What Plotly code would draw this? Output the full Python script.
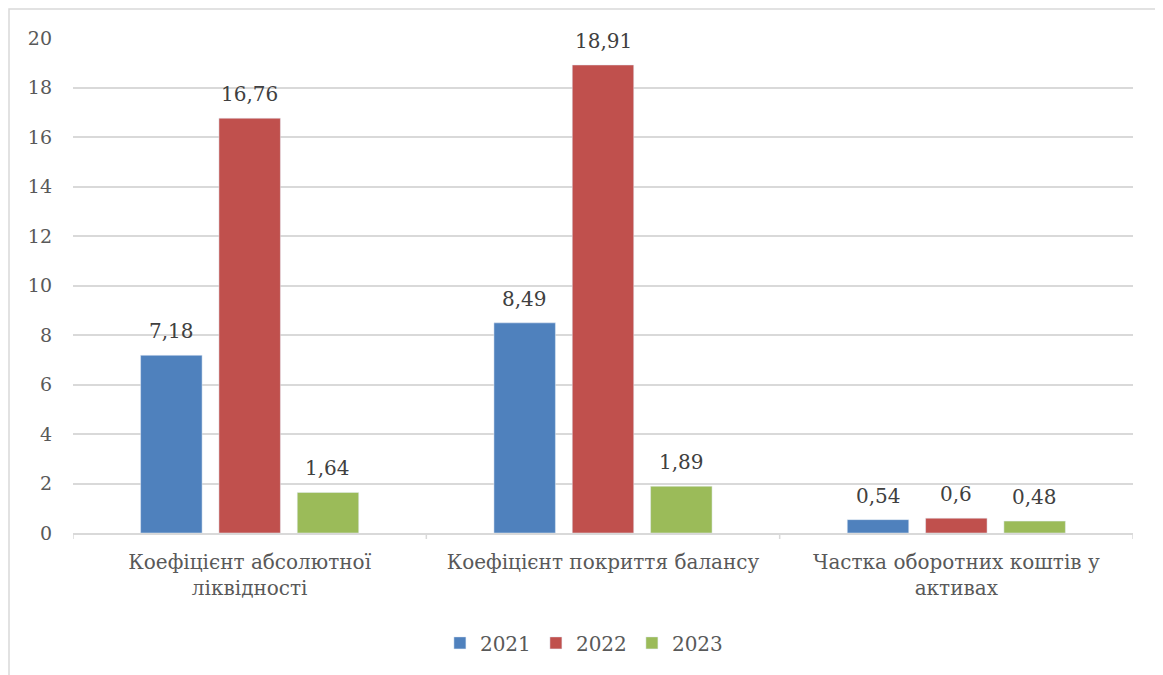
import plotly.graph_objects as go

categories = ["Коефіцієнт абсолютної<br>ліквідності", "Коефіцієнт покриття балансу", "Частка оборотних коштів у<br>активах"]
years = ["2021", "2022", "2023"]
values_2021 = [7.18, 8.49, 0.54]
values_2022 = [16.76, 18.91, 0.6]
values_2023 = [1.64, 1.89, 0.48]
colors = ["#4f81bd", "#c0504d", "#9bbb59"]
y_ticks = [0, 2, 4, 6, 8, 10, 12, 14, 16, 18, 20]

FONT = "DejaVu Serif"
TXT = "#595959"
BARGAP = 0.335
GROUPGAP = 0.215

def fmt(v):
    return ("%g" % v).replace(".", ",")

fig = go.Figure()
series = [values_2021, values_2022, values_2023]
slot = (1 - BARGAP) / len(series)
for k, (name, vals, col) in enumerate(zip(years, series, colors)):
    fig.add_trace(go.Bar(
        x=list(range(len(categories))), y=vals, name=name, marker_color=col,
    ))
    off = (k - (len(series) - 1) / 2) * slot
    for i, v in enumerate(vals):
        fig.add_annotation(x=i + off, y=v, xref="x", yref="y", text=fmt(v), showarrow=False,
                           yanchor="bottom", yshift=10,
                           font=dict(family=FONT, size=20, color="#404040"))

W, H = 1155, 667
fig.update_layout(
    width=W, height=H,
    margin=dict(l=65, r=30, t=30, b=142),
    paper_bgcolor="white", plot_bgcolor="white",
    barmode="group", bargap=BARGAP, bargroupgap=GROUPGAP,
    font=dict(family=FONT, size=18, color=TXT),
    legend=dict(orientation="h", x=0.482, xanchor="center", y=-0.222, yanchor="middle",
                font=dict(family=FONT, size=20, color=TXT), traceorder="normal",
                itemwidth=30, entrywidth=51, entrywidthmode="pixels"),
    showlegend=True,
)
fig.update_yaxes(range=[0, 20], tickvals=y_ticks, showgrid=True, gridcolor="#d9d9d9", gridwidth=1.5,
                 zeroline=False, showline=False, ticks="", ticklabelstandoff=20,
                 tickfont=dict(family=FONT, size=19, color=TXT))
fig.update_xaxes(tickvals=list(range(len(categories))), ticktext=categories,
                 range=[-0.5, len(categories) - 0.5],
                 showline=True, linecolor="#d9d9d9", linewidth=1.5, ticks="", ticklabelstandoff=10,
                 showgrid=False, zeroline=False,
                 tickfont=dict(family=FONT, size=20, color=TXT))
# category boundary tick marks
for b in [i - 0.5 for i in range(len(categories) + 1)]:
    fig.add_shape(type="line", xref="x", yref="paper", x0=b, x1=b, y0=0, y1=-6 / 495,
                  line=dict(color="#d9d9d9", width=1.5))

fig.add_shape(type="rect", xref="paper", yref="paper",
              x0=(1 - 65) / 1060, x1=(1153 - 65) / 1060,
              y0=(525 - 690) / 495, y1=(525 - 1) / 495,
              line=dict(color="#d9d9d9", width=1.5), fillcolor="rgba(0,0,0,0)", layer="below")

fig.write_html("out.html")
